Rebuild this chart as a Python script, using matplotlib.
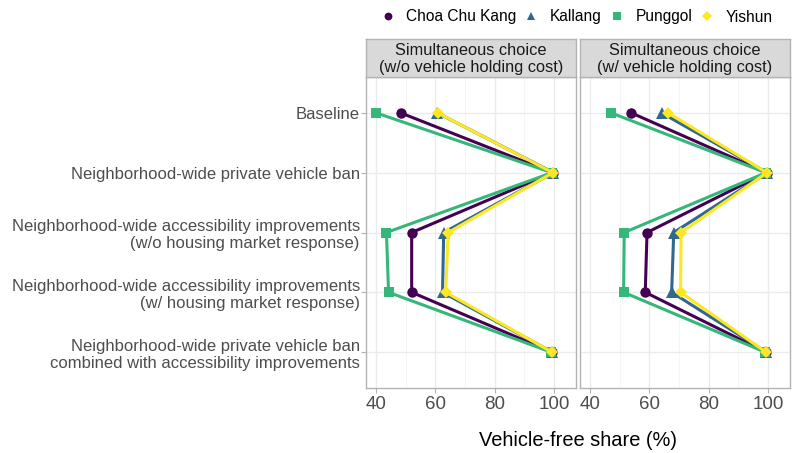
import matplotlib
matplotlib.use("Agg")
import matplotlib.pyplot as plt
from matplotlib.lines import Line2D

plt.rcParams["font.family"] = ["Liberation Sans", "DejaVu Sans"]

scenarios = [
    "Baseline",
    "Neighborhood-wide private vehicle ban",
    "Neighborhood-wide accessibility improvements\n(w/o housing market response)",
    "Neighborhood-wide accessibility improvements\n(w/ housing market response)",
    "Neighborhood-wide private vehicle ban\ncombined with accessibility improvements",
]
towns = ["Choa Chu Kang", "Kallang", "Punggol", "Yishun"]
colors = ["#440154", "#31688E", "#35B779", "#FDE725"]
markers = ["o", "^", "s", "D"]
marker_sizes = [7.5, 8.5, 7.5, 6.5]

panel_titles = [
    "Simultaneous choice\n(w/o vehicle holding cost)",
    "Simultaneous choice\n(w/ vehicle holding cost)",
]

# Vehicle-free share (%) per town, one value per scenario
share_without_cost = {
    "Choa Chu Kang": [48.3, 99.5, 52.0, 52.0, 99.3],
    "Kallang":       [60.7, 99.8, 62.8, 62.4, 99.4],
    "Punggol":       [40.0, 99.3, 43.5, 44.2, 99.0],
    "Yishun":        [60.8, 99.6, 64.3, 63.5, 99.3],
}
share_with_cost = {
    "Choa Chu Kang": [53.9, 99.5, 59.2, 58.6, 99.3],
    "Kallang":       [64.1, 99.7, 68.2, 67.5, 99.4],
    "Punggol":       [47.1, 99.3, 51.5, 51.3, 99.0],
    "Yishun":        [66.3, 99.6, 70.7, 70.5, 99.3],
}
panels = [share_without_cost, share_with_cost]

x_ticks = [40, 60, 80, 100]
x_limits = (36.6, 107.4)

W, H = 792, 453
fig = plt.figure(figsize=(W / 100, H / 100), dpi=100)

panel_left = [366, 580]
panel_w = 210
panel_top, panel_bottom = 77, 388
strip_top = 39

grid_col = "#EBEBEB"
border_col = "#B3B3B3"
text_col = "#4D4D4D"

y_pos = list(range(len(scenarios)))

for i, (data, title) in enumerate(zip(panels, panel_titles)):
    ax = fig.add_axes([panel_left[i] / W, 1 - panel_bottom / H,
                       panel_w / W, (panel_bottom - panel_top) / H])
    ax.set_xlim(*x_limits)
    ax.set_ylim(len(scenarios) - 1 + 0.6, -0.6)
    ax.set_xticks(x_ticks)
    ax.set_xticks([50, 70, 90], minor=True)
    ax.set_yticks(y_pos)
    ax.grid(True, which="major", color=grid_col, lw=1.0)
    ax.grid(True, which="minor", axis="x", color="#F4F4F4", lw=0.6)
    ax.set_axisbelow(True)
    for s in ax.spines.values():
        s.set_color(border_col)
        s.set_linewidth(1.0)
    ax.tick_params(axis="both", which="major", length=3.5, color=border_col,
                   labelsize=13.5, labelcolor=text_col, pad=2)
    ax.tick_params(axis="x", which="minor", length=0)
    if i == 0:
        ax.set_yticklabels(scenarios, fontsize=12, color=text_col,
                           linespacing=1.2)
        ax.tick_params(axis="y", pad=1)
    else:
        ax.tick_params(axis="y", length=0, labelleft=False)

    for town, col, mk, ms in zip(towns, colors, markers, marker_sizes):
        ax.plot(data[town], y_pos, color=col, lw=2.2, marker=mk, ms=ms,
                markeredgewidth=0, zorder=3)

    # facet strip
    strip = fig.add_axes([panel_left[i] / W, 1 - panel_top / H,
                          panel_w / W, (panel_top - strip_top) / H])
    strip.set_xticks([])
    strip.set_yticks([])
    strip.set_facecolor("#D9D9D9")
    for s in strip.spines.values():
        s.set_color(border_col)
        s.set_linewidth(1.0)
    strip.text(0.5, 0.48, title, ha="center", va="center", fontsize=11.8,
               color="#1A1A1A", linespacing=1.15, transform=strip.transAxes)

fig.text((panel_left[0] + panel_left[1] + panel_w) / 2 / W, 1 - 440 / H,
         "Vehicle-free share (%)", ha="center", va="center", fontsize=14.4,
         color="black")

handles = [Line2D([], [], color=c, marker=m, ls="none", ms=s * 0.75,
                  markeredgewidth=0)
           for c, m, s in zip(colors, markers, marker_sizes)]
fig.legend(handles, towns, loc="center right", ncol=4,
           bbox_to_anchor=(779 / W, 1 - 17 / H), frameon=False,
           fontsize=11.2, handletextpad=0.7, columnspacing=0.45,
           handlelength=1.0, borderaxespad=0)

fig.savefig("out.png", dpi=100, facecolor="white")
